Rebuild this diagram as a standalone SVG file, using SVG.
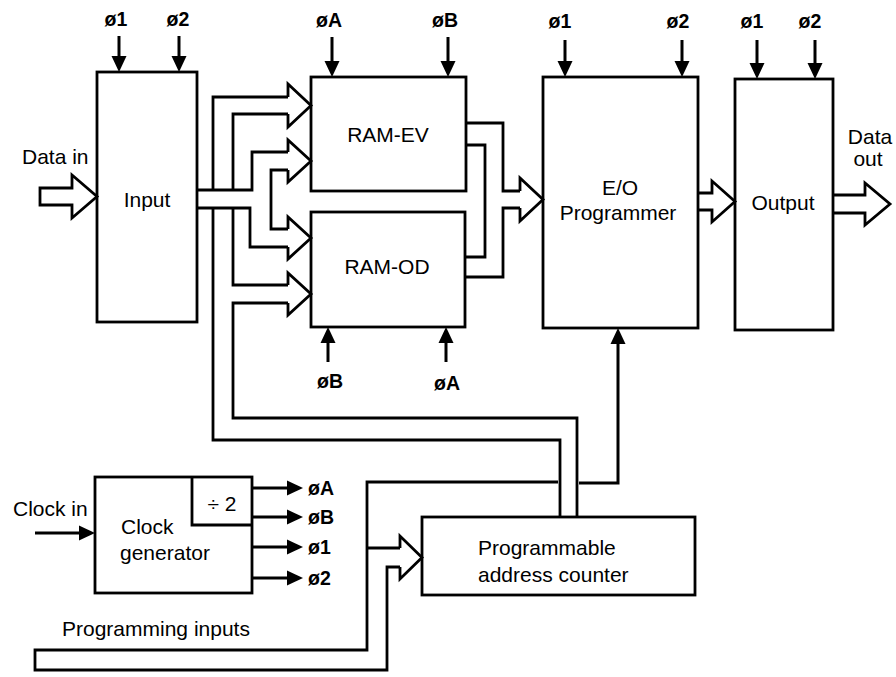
<svg xmlns="http://www.w3.org/2000/svg" width="896" height="677" viewBox="0 0 896 677">
<style>
.box{fill:none;stroke:#000;stroke-width:2.8;stroke-linejoin:miter}
.bus{fill:none;stroke:#000;stroke-width:2.8;stroke-linejoin:miter}
.sig{fill:none;stroke:#000;stroke-width:3;marker-end:url(#ah)}
.t{font-family:"Liberation Sans",Arial,Helvetica,sans-serif;font-size:21px;fill:#000}
.s{font-family:"Liberation Sans",Arial,Helvetica,sans-serif;font-size:19.5px;font-weight:bold;fill:#000}
.m{text-anchor:middle}
</style>
<defs>
<marker id="ah" markerUnits="userSpaceOnUse" markerWidth="18" markerHeight="18" viewBox="0 -9 18 18" refX="0" refY="0" orient="auto" overflow="visible">
<path d="M0,-7.5 L16,0 L0,7.5 Z" fill="#000"/>
</marker>
</defs>
<rect width="896" height="677" fill="#fff"/>

<g id="input">
<rect class="box" x="97" y="72" width="100" height="250"/>
<text class="t m" x="147" y="207">Input</text>
</g>
<g id="ram-ev">
<rect class="box" x="311" y="77" width="155" height="114"/>
<text class="t m" x="388" y="142">RAM-EV</text>
</g>
<g id="ram-od">
<rect class="box" x="311" y="212" width="154" height="115"/>
<text class="t m" x="387" y="274">RAM-OD</text>
</g>
<g id="eo-programmer">
<rect class="box" x="543" y="77" width="155" height="251"/>
<text class="t m" x="620" y="195">E/O</text>
<text class="t m" x="618" y="220">Programmer</text>
</g>
<g id="output">
<rect class="box" x="735" y="79" width="98" height="251"/>
<text class="t m" x="783" y="210">Output</text>
</g>
<g id="clock-generator">
<rect class="box" x="95" y="477" width="157" height="116"/>
<path class="box" d="M192,477 L192,525 L252,525"/>
<text class="t m" x="222" y="511">÷ 2</text>
<text class="t" x="121" y="534">Clock</text>
<text class="t" x="120" y="560">generator</text>
</g>
<g id="address-counter">
<rect class="box" x="422" y="517" width="273" height="78"/>
<text class="t" x="478" y="555">Programmable</text>
<text class="t" x="478" y="582">address counter</text>
</g>

<g id="labels">
<text class="t" x="22" y="164">Data in</text>
<text class="t m" x="870" y="144">Data</text>
<text class="t m" x="868" y="166">out</text>
<text class="t" x="13" y="516">Clock in</text>
<text class="t" x="62" y="636">Programming inputs</text>
<text class="s m" x="116" y="26">ø1</text>
<text class="s m" x="178" y="26">ø2</text>
<text class="s m" x="329" y="27">øA</text>
<text class="s m" x="445" y="27">øB</text>
<text class="s m" x="330" y="388">øB</text>
<text class="s m" x="447" y="390">øA</text>
<text class="s m" x="560" y="28">ø1</text>
<text class="s m" x="678" y="28">ø2</text>
<text class="s m" x="752" y="28">ø1</text>
<text class="s m" x="810" y="28">ø2</text>
<text class="s" x="308" y="495">øA</text>
<text class="s" x="308" y="524">øB</text>
<text class="s" x="308" y="554">ø1</text>
<text class="s" x="308" y="585">ø2</text>
</g>

<g id="connectors">
<path class="bus" d="M72,188 L40,188 L40,205 L72,205 L72,218 L97,196.5 L72,175 Z"/>
<path class="bus" d="M213,190 L213,97 L288,97"/>
<path class="bus" d="M233,190 L233,114 L288,114"/>
<path class="bus" d="M288,97 L288,84 L311,105.5 L288,127 L288,114"/>
<path class="bus" d="M197,190 L252,190 L252,152 L288,152"/>
<path class="bus" d="M288,170 L271,170 L271,229 L288,229"/>
<path class="bus" d="M288,152 L288,140 L311,161 L288,182 L288,170"/>
<path class="bus" d="M197,208 L250,208 L250,247 L288,247"/>
<path class="bus" d="M288,229 L288,217 L311,238 L288,259 L288,247"/>
<path class="bus" d="M233,208 L233,285 L288,285"/>
<path class="bus" d="M288,303 L233,303 L233,418 L577,418 L577,517"/>
<path class="bus" d="M288,285 L288,273 L311,294 L288,315 L288,303"/>
<path class="bus" d="M213,208 L213,440 L560,440 L560,517"/>
<path class="bus" d="M466,123 L503,123 L503,191 L520,191"/>
<path class="bus" d="M466,145 L485,145 L485,257 L465,257"/>
<path class="bus" d="M465,277 L503,277 L503,208 L520,208"/>
<path class="bus" d="M520,191 L520,178 L543,199.5 L520,221 L520,208"/>
<path class="bus" d="M698,193 L712,193 L712,181 L735,201.5 L712,222 L712,210 L698,210"/>
<path class="bus" d="M833,195 L865,195 L865,183 L890,204 L865,225 L865,213 L833,213"/>
<path class="bus" d="M558,482 L367,482 L367,650 L35,650 L35,670 L387,670 L387,567 L400,567"/>
<path class="bus" d="M367,548 L400,548"/>
<path class="bus" d="M400,548 L400,536 L422,557.5 L400,579 L400,567"/>
<path class="sig" d="M579,483 L618,483 L618,344"/>
<path class="sig" d="M119,36 L119,56"/>
<path class="sig" d="M179,36 L179,56"/>
<path class="sig" d="M332,37 L332,61"/>
<path class="sig" d="M448,37 L448,61"/>
<path class="sig" d="M328,362 L328,343"/>
<path class="sig" d="M446,362 L446,343"/>
<path class="sig" d="M565,40 L565,61"/>
<path class="sig" d="M682,40 L682,61"/>
<path class="sig" d="M757,40 L757,63"/>
<path class="sig" d="M815,40 L815,63"/>
<path class="sig" d="M35,533 L79,533"/>
<path class="sig" d="M252,488 L287,488"/>
<path class="sig" d="M252,517 L287,517"/>
<path class="sig" d="M252,547 L287,547"/>
<path class="sig" d="M252,578 L287,578"/>
</g>
</svg>
